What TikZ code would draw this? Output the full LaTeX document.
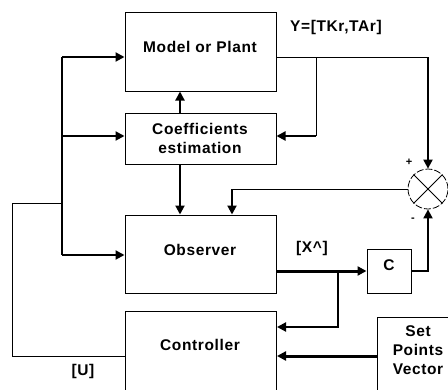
\documentclass[tikz,border=0pt]{standalone}
\usepackage{fontspec}
\setmainfont{Liberation Sans}
\newfontfamily\lblfont[LetterSpace=4]{Liberation Sans}
\usetikzlibrary{arrows.meta}
\begin{document}
\begin{tikzpicture}[x=1pt,y=-1pt,
  box/.style={draw, line width=1pt, minimum width=151pt, inner sep=0pt},
  lbl/.style={font=\lblfont\fontsize{15.5}{19}\selectfont\bfseries, align=center, inner sep=0pt},
  sml/.style={font=\fontsize{11}{12}\selectfont\bfseries, inner sep=0pt},
  thinln/.style={line width=1pt},
  thk/.style={line width=2pt},
  vthk/.style={line width=3pt},
  arr/.style={-{Triangle[length=9pt,width=9pt]}}
]
\clip (0,0) rectangle (448,389);
\fill[white] (0,0) rectangle (448,389);
% blocks
\node[box, minimum height=79pt] (model) at (200.5,51.5) {};
\node[box, minimum height=51pt] (coef) at (200.5,138.5) {};
\node[box, minimum height=78pt] (obs) at (200.5,254) {};
\node[box, minimum height=95pt, anchor=north west] (ctrl) at (125,311) {};
\node[draw, line width=1pt, minimum width=44pt, minimum height=44pt, inner sep=0pt] (cbox) at (389,271) {};
\node[draw, line width=1pt, minimum width=90pt, minimum height=95pt, inner sep=0pt, anchor=north west] (sp) at (377,317) {};
\node[draw, line width=0.8pt, dash pattern=on 7pt off 2pt, circle, minimum size=40pt, inner sep=0pt] (sum) at (428,189) {};
\draw[line width=0.8pt] (sum.north east) -- (sum.south west) (sum.north west) -- (sum.south east);
% texts
\node[lbl] (tmodel) at (200,47) {Model or Plant};
\node[lbl] (tcoef) at (200,138.5) {Coefficients\\estimation};
\node[lbl] (tobs) at (200,250) {Observer};
\node[lbl] (tctrl) at (200,345) {Controller};
\node[lbl] (tc) at (389,265) {C};
\node[lbl] (tsp) at (418,350) {Set\\Points\\Vector};
\node[lbl] (ty) at (336,27) {Y=[TKr,TAr]};
\node[lbl] (tx) at (312,248) {[X\textasciicircum]};
\node[lbl] (tu) at (83,371) {[U]};
\node[sml] (tplus) at (409,162) {+};
\node[sml] (tminus) at (413,220) {-};
% coordinates
\coordinate (b1) at (62,57);
\coordinate (b2) at (62,136);
\coordinate (b3) at (62,255);
\coordinate (bu) at (62,203);
\coordinate (u1) at (12,203);
\coordinate (u2) at (12,356);
\coordinate (cx) at (180,0);
\coordinate (y1) at (316,57);
\coordinate (y2) at (428,57);
\coordinate (y3) at (316,136);
\coordinate (s1) at (232,189);
\coordinate (o1) at (338,271);
\coordinate (o2) at (338,327);
\coordinate (c2) at (428,271);
\coordinate (p1) at (377,356);
% left bus
\draw[thk] (b1) -- (b3);
\draw[thk,arr] (b1) -- (b1 -| model.west);
\draw[thk,arr] (b2) -- (b2 -| coef.west);
\draw[thk,arr] (b3) -- (b3 -| obs.west);
\draw[thinln] (u2 -| ctrl.west) -- (u2) -- (u1) -- (bu);
% coefficient estimation links
\draw[thk,arr] (cx |- coef.north) -- (cx |- model.south);
\draw[thk,arr] (cx |- coef.south) -- (cx |- obs.north);
% plant output
\draw[thinln] (y1 -| model.east) -- (y2);
\draw[thk,arr] (y2) -- (sum.north);
\draw[thinln] (y1) -- (y3);
\draw[thk,arr] (y3) -- (y3 -| coef.east);
% error to observer
\draw[thinln] (sum.west) -- (s1);
\draw[thk,arr] (s1) -- (s1 |- obs.north);
% observer output
\draw[vthk,arr] (o1 -| obs.east) -- (cbox.west);
\draw[thk,arr] (o1) -- (o2) -- (o2 -| ctrl.east);
\draw[thk,arr] (cbox.east) -- (c2) -- (sum.south);
% set points
\draw[vthk,arr] (p1) -- (p1 -| ctrl.east);
\end{tikzpicture}
\end{document}
